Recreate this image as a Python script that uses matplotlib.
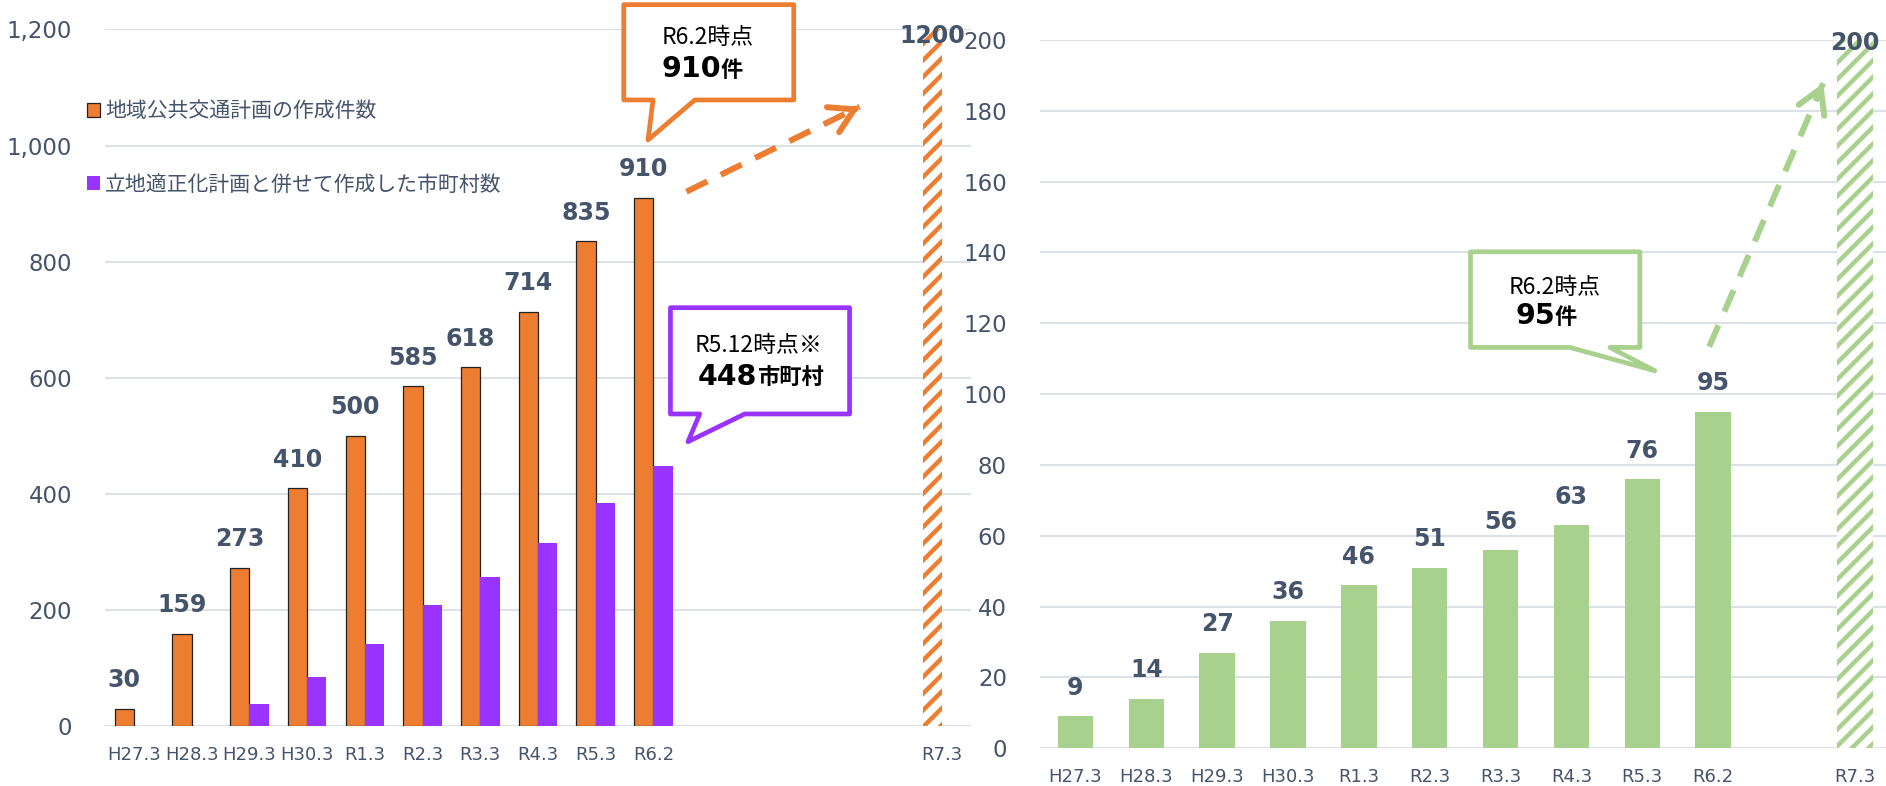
import matplotlib

matplotlib.use("Agg")

import matplotlib.pyplot as plt
import numpy as np
from matplotlib.patches import Polygon
from matplotlib.ticker import StrMethodFormatter

plt.rcParams["font.family"] = ["DejaVu Sans", "Noto Sans CJK JP"]
plt.rcParams["hatch.linewidth"] = 3.2

# data
periods = ["H27.3", "H28.3", "H29.3", "H30.3", "R1.3", "R2.3", "R3.3", "R4.3", "R5.3", "R6.2"]
target_period = "R7.3"
plan_counts = [30, 159, 273, 410, 500, 585, 618, 714, 835, 910]
joint_counts = [0, 0, 38, 85, 142, 208, 257, 316, 385, 448]
plan_target = 1200
green_counts = [9, 14, 27, 36, 46, 51, 56, 63, 76, 95]
green_target = 200
legend_labels = ["地域公共交通計画の作成件数", "立地適正化計画と併せて作成した市町村数"]

ORANGE = "#ED7D31"
PURPLE = "#9933FF"
GREEN = "#A9D18E"
SLATE = "#44546A"
GRID = "#DCE1E8"
CJK = ["Noto Sans CJK JP", "DejaVu Sans"]


def style_axis(ax, ymax, step):
    for spine in ax.spines.values():
        spine.set_visible(False)
    ax.set_ylim(0, ymax)
    ax.set_yticks(np.arange(0, ymax + 1, step))
    ax.yaxis.grid(True, color=GRID, lw=1.5)
    ax.set_axisbelow(True)
    ax.tick_params(axis="y", length=0, pad=23.8, labelsize=16.5, labelcolor=SLATE)
    ax.tick_params(axis="x", length=0, pad=14.4, labelsize=13, labelcolor=SLATE)


def value_labels(ax, xs, values, dy=20.5):
    for x, v in zip(xs, values):
        ax.annotate(f"{v}", (x, v), xytext=(0, dy), textcoords="offset points",
                    ha="center", va="center", fontsize=17, fontweight="bold",
                    color=SLATE, annotation_clip=False)


def callout(ax, box, tail, color, head, head_xy, value, unit, value_xy):
    x0, x1, y0, y1 = box
    left, tip_x, tip_y, right = tail
    verts = [(x0, y1), (x1, y1), (x1, y0), (right, y0), (tip_x, tip_y), (left, y0), (x0, y0)]
    ax.add_patch(Polygon(verts, closed=True, facecolor="white", edgecolor=color,
                         lw=3.4, joinstyle="round", clip_on=False, zorder=5))
    ax.text(*head_xy, head, ha="center", va="baseline", fontsize=16.5, family=CJK,
            color="black", zorder=6, clip_on=False)
    ax.text(*value_xy, value, ha="right", va="baseline", fontsize=20.5,
            fontweight="bold", color="black", zorder=6, clip_on=False)
    ax.text(*value_xy, unit, ha="left", va="baseline", fontsize=16, family=CJK,
            fontweight="bold", color="black", zorder=6, clip_on=False)


def dashed_arrow(ax, start, tip, color):
    ax.plot([start[0], tip[0]], [start[1], tip[1]], color=color, lw=4.3,
            ls=(0, (3.9, 2.5)), dash_capstyle="butt", clip_on=False, zorder=4)
    near = (start[0] + (tip[0] - start[0]) * 0.97, start[1] + (tip[1] - start[1]) * 0.97)
    ax.annotate("", xy=tip, xytext=near, annotation_clip=False,
                arrowprops=dict(arrowstyle="->,head_length=0.85,head_width=0.5",
                                mutation_scale=20, lw=4.3, color=color,
                                shrinkA=0, shrinkB=0, capstyle="round",
                                joinstyle="round"))


fig = plt.figure(figsize=(18.86, 7.86), dpi=100)
ax_l = fig.add_axes([0.05567, 0.07634, 0.45917, 0.88613])
ax_r = fig.add_axes([0.55143, 0.04796, 0.45085, 0.90115])

# left chart
w = 0.334
x_l = np.arange(len(periods))
x_l_target = len(periods) + 4
orange = ax_l.bar(x_l - w / 2, plan_counts, w, color=ORANGE, edgecolor="#222222", lw=0.9)
purple = ax_l.bar(x_l + w / 2, joint_counts, w, color=PURPLE, lw=0)
ax_l.bar(x_l_target - w / 2, plan_target, w, facecolor="white", edgecolor=ORANGE,
         hatch="//", lw=0)
style_axis(ax_l, 1200, 200)
ax_l.set_xlim(-0.5, 14.5)
ax_l.set_xticks(list(x_l) + [x_l_target], periods + [target_period])
ax_l.yaxis.set_major_formatter(StrMethodFormatter("{x:,.0f}"))
value_labels(ax_l, x_l - w / 2, plan_counts)
value_labels(ax_l, [x_l_target - w / 2], [plan_target], dy=-5)

ax_l.legend([orange, purple], legend_labels, loc="upper left",
            bbox_to_anchor=(-0.0208, 0.8967), frameon=False, fontsize=15,
            labelcolor=SLATE, handlelength=0.63, handleheight=0.63,
            handletextpad=0.25, labelspacing=2.55, borderpad=0, borderaxespad=0)

callout(ax_l, (8.486, 11.43, 1078.6, 1242.8), (8.993, 8.906, 1009.7, 9.716), ORANGE,
        "R6.2時点", (9.94, 1174.5), "910", "件", (10.165, 1117.7))
dashed_arrow(ax_l, (9.571, 920.6), (12.57, 1067), ORANGE)
callout(ax_l, (9.294, 12.397, 537.6, 720.7), (9.801, 9.598, 489.8, 10.58), PURPLE,
        "R5.12時点※", (10.82, 644.9), "448", "市町村", (10.796, 587.5))

# right chart
x_r = np.arange(len(periods))
x_r_target = len(periods) + 1
ax_r.bar(x_r, green_counts, 0.5, color=GREEN, lw=0)
ax_r.bar(x_r_target, green_target, 0.5, facecolor="white", edgecolor=GREEN, hatch="//", lw=0)
style_axis(ax_r, 200, 20)
ax_r.set_xlim(-0.5, 11.5)
ax_r.set_xticks(list(x_r) + [x_r_target], periods + [target_period])
value_labels(ax_r, x_r, green_counts)
value_labels(ax_r, [x_r_target], [green_target], dy=-2)

callout(ax_r, (5.576, 7.966, 113.2, 140.2), (6.978, 8.177, 106.6, 7.543), GREEN,
        "R6.2時点", (6.766, 128.2), "95", "件", (6.766, 119.7))
dashed_arrow(ax_r, (8.944, 113.4), (10.553, 187.8), GREEN)

fig.savefig("out.png", dpi=100)
plt.close(fig)
